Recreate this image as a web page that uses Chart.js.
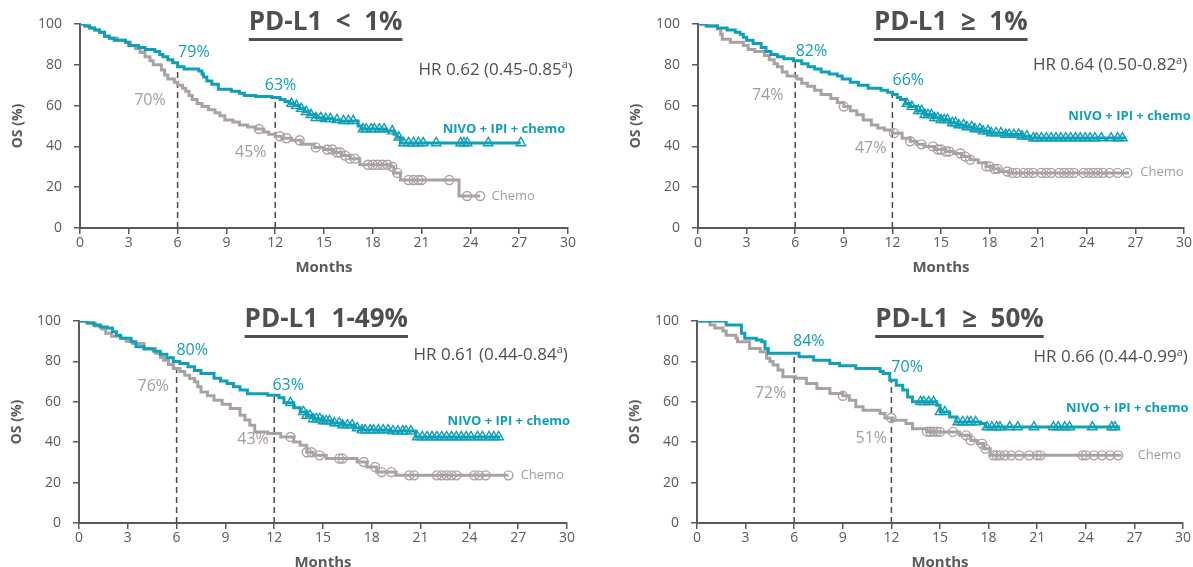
<!DOCTYPE html>
<html>
<head>
<meta charset="utf-8">
<script src="https://cdn.jsdelivr.net/npm/chart.js@4.4.1/dist/chart.umd.min.js"></script>
<style>
  html, body { margin: 0; padding: 0; background: #fff; overflow: hidden; }
  #wrap { position: relative; width: 1193px; height: 567px; }
  canvas { position: absolute; }
</style>
</head>
<body>
<div id="wrap">
  <canvas id="c0"></canvas>
  <canvas id="c1"></canvas>
  <canvas id="c2"></canvas>
  <canvas id="c3"></canvas>
</div>
<script>
// ---- data ----
const panelTitles = ["PD-L1 < 1%", "PD-L1 \u2265 1%", "PD-L1 1-49%", "PD-L1 \u2265 50%"];
const xTicks = [0, 3, 6, 9, 12, 15, 18, 21, 24, 27, 30];
const yTicks = [0, 20, 40, 60, 80, 100];
const landmarkMonths = [6, 12];

const hazardRatios = [0.62, 0.64, 0.61, 0.66];
const hrLower = [0.45, 0.50, 0.44, 0.44];
const hrUpper = [0.85, 0.82, 0.84, 0.99];

// landmark OS (%) at 6 and 12 months
const nivoLandmarks = [[79, 63], [82, 66], [80, 63], [84, 70]];
const chemoLandmarks = [[70, 45], [74, 47], [76, 43], [72, 51]];

// PD-L1 < 1%
const lt1Nivo = [[0,100],[0.3,99],[0.6,98],[0.9,97],[1.2,96],[1.5,94],[1.8,93],[2.1,92],[2.8,91],[3.0,89.5],[3.6,88.5],[4.0,87.5],[4.6,86.5],[4.9,85],[5.1,84],[5.4,82.5],[5.7,81],[6.0,79],[6.4,78],[7.3,77],[7.5,75.5],[7.6,74],[7.8,72],[8.1,70.5],[8.5,68],[9.3,67],[9.8,66],[10.1,65],[10.8,64.5],[11.8,64],[12.3,63],[12.6,62],[12.9,61],[13.2,60],[13.5,58.5],[13.8,57],[14.1,55.5],[14.5,54],[15.0,53.5],[15.6,53],[16.0,52.5],[17.1,50],[17.3,48.5],[18.8,47.5],[19.3,46],[19.5,44.5],[19.7,41.7],[27.1,41.7]];
const lt1NivoCensor = [13.0,13.3,13.6,13.9,14.2,14.5,14.8,15.1,15.4,15.8,16.2,16.5,16.8,17.4,17.6,17.9,18.1,18.4,18.7,19.2,19.6,19.9,20.2,20.5,20.8,21.1,21.9,23.4,23.6,23.8,25.1,27.1];
const lt1Chemo = [[0,100],[0.3,99],[0.6,98],[0.9,97],[1.2,96],[1.5,94],[1.8,93],[2.3,92],[2.8,91],[3.1,89.5],[3.4,88],[3.7,86],[4.0,84],[4.3,82],[4.5,80],[5.0,77.5],[5.2,75],[5.4,73],[5.8,71.5],[6.0,70],[6.3,68.5],[6.5,67],[6.7,65],[6.9,63],[7.2,61],[7.5,59.5],[7.9,58],[8.3,56.5],[8.6,55],[8.9,53],[9.4,52],[9.8,50.5],[10.3,49.5],[10.8,48.5],[11.3,47],[11.6,46],[12.0,45],[12.4,44],[13.0,43],[13.6,41],[14.4,39.5],[15.0,38.5],[15.6,37],[16.1,35.5],[16.6,34],[17.2,31],[19.1,30],[19.3,27],[19.7,23.5],[23.3,15.7],[24.6,15.7]];
const lt1ChemoCensor = [11.0,12.3,12.7,13.5,14.5,15.2,15.5,15.8,16.0,16.3,16.6,16.9,17.7,18.0,18.3,18.6,18.9,19.2,19.5,20.2,20.5,20.8,21.0,22.7,23.8,24.6];

// PD-L1 >= 1%
const ge1Nivo = [[0,100],[0.5,99],[1.2,98],[1.8,97],[2.3,96],[2.6,95],[2.8,93.5],[3.0,92],[3.4,90.5],[3.9,88.5],[4.2,86.5],[4.5,85],[4.9,84],[5.3,83],[5.9,82],[6.4,80.5],[6.8,79],[7.2,78],[7.6,76.5],[8.1,75.5],[8.6,74.5],[8.9,73],[9.4,71.5],[9.9,70],[10.5,68.5],[11.3,67.5],[11.7,66.5],[12.0,65.5],[12.3,64],[12.5,63],[12.8,61],[13.1,59.5],[13.5,57.5],[14.0,55.5],[14.5,54],[15.0,53],[15.5,51.5],[16.0,50.5],[16.5,49.5],[17.0,48.5],[17.5,47.5],[18.0,46.6],[19.0,45.8],[20.0,45],[20.5,44.1],[26.4,44.1]];
const ge1NivoCensor = [12.9,13.2,13.6,13.8,14.0,14.2,14.4,14.6,14.8,15.0,15.2,15.4,15.7,15.9,16.1,16.4,16.6,16.9,17.1,17.4,17.6,17.9,18.1,18.4,18.7,19.0,19.2,19.5,19.8,20.0,20.3,20.7,20.9,21.2,21.5,21.8,22.1,22.4,22.7,23.0,23.3,23.6,23.9,24.2,24.5,24.9,25.5,25.9,26.2];
const ge1Chemo = [[0,100],[0.6,99],[1.2,97.5],[1.4,95],[1.5,92.5],[2.0,91],[2.8,89.5],[3.1,87.5],[3.5,86.5],[4.1,84.5],[4.4,82.5],[4.7,80.5],[4.9,79],[5.2,76.5],[5.5,74.5],[6.1,73],[6.4,71],[6.75,69.5],[7.2,67.5],[7.6,65.5],[8.2,63.5],[8.6,61.5],[9.0,59.5],[9.4,57.5],[9.8,55.5],[10.2,53],[10.7,50.5],[11.1,49],[11.5,48],[12.0,46.5],[12.6,44],[13.1,42.5],[13.5,41],[13.95,40],[14.6,38.5],[15.3,37.5],[15.8,36.5],[16.3,35],[16.8,33.5],[17.3,32],[17.8,30.2],[18.2,29],[18.6,27.7],[19.2,27],[26.6,27]];
const ge1ChemoCensor = [9.0,12.1,13.1,13.8,14.5,14.8,15.0,15.3,15.5,16.2,16.5,16.8,17.8,18.0,18.3,18.5,19.1,19.4,19.7,20.1,20.4,20.7,21.2,21.5,21.8,22.3,22.6,22.9,23.2,23.8,24.1,24.4,24.7,25.0,25.4,25.9,26.5];

// PD-L1 1-49%
const midNivo = [[0,100],[0.5,99],[0.9,98],[1.3,97],[1.74,96.5],[2.05,94.7],[2.3,93],[2.56,91.4],[3.2,89.7],[3.5,87.2],[4.0,86.2],[4.6,85],[5.0,83.5],[5.4,81.8],[5.8,80],[6.2,79],[6.7,77.3],[7.1,75.5],[7.5,74],[8.3,71.6],[8.7,70.3],[9.1,69],[9.5,67.5],[9.9,65.8],[10.35,64],[11.6,63.3],[12.3,62],[12.6,59.5],[13.2,57],[13.6,55],[14.0,53.2],[14.4,51.5],[15.0,50.5],[15.6,49.5],[16.2,48.5],[16.9,47],[17.4,46],[19.1,45.5],[20.7,42.6],[25.9,42.6]];
const midNivoCensor = [13.0,13.8,14.0,14.2,14.4,14.6,14.8,15.0,15.2,15.4,15.7,16.0,16.2,16.5,16.8,17.1,17.4,17.6,17.9,18.1,18.4,18.7,19.0,19.3,19.6,19.9,20.1,20.4,20.8,21.1,21.4,21.7,22.0,22.3,22.6,22.9,23.2,23.5,23.8,24.1,24.5,24.8,25.2,25.5,25.8];
const midChemo = [[0,100],[0.5,99],[1.0,97.5],[1.4,96],[1.64,93.9],[2.0,92.5],[2.56,91.4],[2.9,90],[3.3,88.9],[4.0,86.4],[4.7,84],[5.0,82],[5.2,80.6],[5.5,78.5],[5.8,76.5],[6.2,75],[6.5,73.2],[6.8,71.5],[7.1,69.9],[7.3,67.5],[7.5,64.9],[7.9,63],[8.3,60.8],[8.8,58.8],[9.3,56.7],[9.9,53.4],[10.2,51],[10.5,48.4],[10.8,45.1],[11.6,44.3],[12.4,42.6],[13.2,40.1],[13.6,38.5],[14.0,35],[14.4,33.5],[15.2,31.9],[17.1,30.2],[17.7,27.7],[18.3,25.2],[19.5,23.6],[26.4,23.6]];
const midChemoCensor = [13.0,14.0,14.3,14.8,16.0,16.2,17.5,18.2,18.6,19.2,20.3,20.6,22.0,22.3,22.6,22.9,23.2,24.3,24.6,25.0,26.4];

// PD-L1 >= 50%
const ge50Nivo = [[0,100],[1.8,98],[2.74,93.9],[2.95,91.4],[3.66,90.6],[4.0,89.7],[4.2,86.4],[4.4,84],[6.3,82.3],[7.2,80.6],[8.2,79],[8.8,77.8],[9.8,76.5],[11.3,75],[11.5,74],[11.9,70.7],[12.3,68.2],[12.7,65.8],[13.0,62.4],[13.3,60],[14.8,58.3],[15.0,55],[15.6,52.5],[16.0,50],[17.5,49.2],[17.8,47.5],[26.1,47.5]];
const ge50NivoCensor = [13.8,14.0,14.3,14.6,15.0,15.3,16.1,16.4,16.7,16.9,17.2,17.9,18.2,18.5,18.7,19.3,19.8,20.8,22.0,22.3,22.7,23.0,24.4,25.6,25.8];
const ge50Chemo = [[0,100],[0.8,98],[1.1,96.5],[1.6,95],[1.8,93],[2.4,91.4],[2.5,89.7],[3.25,86.4],[3.9,84.8],[4.3,81.5],[4.5,80],[4.7,78.2],[5.0,75.7],[5.3,72.4],[6.1,71.6],[6.75,69.1],[7.4,66.6],[8.2,64.1],[9.0,63],[9.4,60.8],[9.8,57.5],[10.25,55.8],[11.3,54.2],[11.6,52],[12.1,50.9],[12.9,49.2],[13.3,46.7],[14.2,45.2],[15.0,45.1],[16.2,43.4],[16.9,40.9],[17.3,39.3],[17.7,36.8],[18.1,33.5],[26.2,33.5]];
const ge50ChemoCensor = [9.0,12.0,14.2,14.4,14.6,14.8,15.0,15.8,16.6,16.9,17.6,17.8,18.3,18.5,18.7,19.0,19.4,19.9,20.5,21.0,21.2,23.8,24.0,24.5,25.0,25.5,26.0];

const nivoCurves = [lt1Nivo, ge1Nivo, midNivo, ge50Nivo];
const nivoCensors = [lt1NivoCensor, ge1NivoCensor, midNivoCensor, ge50NivoCensor];
const chemoCurves = [lt1Chemo, ge1Chemo, midChemo, ge50Chemo];
const chemoCensors = [lt1ChemoCensor, ge1ChemoCensor, midChemoCensor, ge50ChemoCensor];

// ---- layout / style ----
const TEAL = "#0fa0b7";
const GREY = "#aaa2a2";
const GREY_TXT = "#a49c9c";
const AXIS = "#5a5a5a";
const DARK = "#4f4f4f";
const FONT = "'Open Sans', 'Noto Sans', sans-serif";

// canvas boxes and text spots (text spots in data units)
const frames = [
  { left: 0,   top: 0,   w: 598, h: 285, padRight: 30, titleX: 15.1, hr: [30.3, 77.6],
    lbl: [[7.0, 86], [4.3, 62.6], [12.33, 69.9], [10.5, 37.1]], nivoLbl: [22.3, 48.2], chemoLbl: [25.3, 15.5] },
  { left: 618, top: 0,   w: 575, h: 285, padRight: 9,  titleX: 15.6, hr: [30.2, 79.6],
    lbl: [[7.0, 86.6], [4.3, 64.9], [12.98, 72.4], [10.66, 39.2]], nivoLbl: [22.86, 54.7], chemoLbl: [27.3, 27.3] },
  { left: -1,  top: 297, w: 598, h: 283, padRight: 30, titleX: 15.2, hr: [30.05, 83],
    lbl: [[6.96, 85.6], [4.57, 67.7], [12.86, 68.2], [10.7, 41.4]], nivoLbl: [22.66, 50.5], chemoLbl: [27.15, 23.6] },
  { left: 617, top: 297, w: 576, h: 283, padRight: 10, titleX: 16.2, hr: [30.3, 82],
    lbl: [[6.9, 89.7], [4.55, 64.1], [12.97, 76.8], [10.76, 41.8]], nivoLbl: [22.78, 56.7], chemoLbl: [27.2, 33.5] }
];

// value of a step curve at time t
function survAt(curve, t) {
  let v = curve[0][1];
  for (const [x, y] of curve) { if (x <= t) v = y; }
  return v;
}

const panelText = {
  id: "panelText",
  afterDatasetsDraw(chart, args, o) {
    const { ctx, chartArea } = chart;
    const sx = chart.scales.x, sy = chart.scales.y;
    const px = v => sx.getPixelForValue(v);
    const py = v => sy.getPixelForValue(v);
    ctx.save();

    // title, underlined
    ctx.font = "bold 26px " + FONT;
    ctx.fillStyle = DARK;
    ctx.textAlign = "center";
    ctx.textBaseline = "middle";
    const tx = px(o.frame.titleX);
    ctx.fillText(o.title.replace(/ /g, "  "), tx, chartArea.top - 1);
    const tw = ctx.measureText(o.title.replace(/ /g, "  ")).width;
    ctx.fillRect(tx - tw / 2, chartArea.top + 14, tw, 3);

    // HR text with superscript a
    const hx = px(o.frame.hr[0]), hy = py(o.frame.hr[1]);
    ctx.textAlign = "right";
    ctx.font = "17px " + FONT;
    ctx.fillStyle = DARK;
    ctx.fillText(")", hx, hy);
    const wClose = ctx.measureText(")").width;
    ctx.font = "11px " + FONT;
    ctx.fillText("a", hx - wClose, hy - 5);
    const wSup = ctx.measureText("a").width;
    ctx.font = "17px " + FONT;
    ctx.fillText("HR " + o.hr.toFixed(2) + " (" + o.lo.toFixed(2) + "-" + o.hi.toFixed(2), hx - wClose - wSup, hy);

    // landmark percentages
    ctx.textAlign = "center";
    ctx.font = "16px " + FONT;
    const vals = [o.nivoLm[0], o.chemoLm[0], o.nivoLm[1], o.chemoLm[1]];
    const cols = [TEAL, GREY_TXT, TEAL, GREY_TXT];
    o.frame.lbl.forEach(([lx, ly], i) => {
      ctx.fillStyle = cols[i];
      ctx.fillText(vals[i] + "%", px(lx), py(ly));
    });

    // arm labels
    ctx.textAlign = "left";
    ctx.font = "bold 13px " + FONT;
    ctx.fillStyle = TEAL;
    ctx.fillText("NIVO + IPI + chemo", px(o.frame.nivoLbl[0]), py(o.frame.nivoLbl[1]));
    ctx.font = "13px " + FONT;
    ctx.fillStyle = GREY_TXT;
    ctx.fillText("Chemo", px(o.frame.chemoLbl[0]), py(o.frame.chemoLbl[1]));
    ctx.restore();
  }
};

function buildPanel(i) {
  const f = frames[i];
  const canvas = document.getElementById("c" + i);
  canvas.width = f.w;
  canvas.height = f.h;
  canvas.style.left = f.left + "px";
  canvas.style.top = f.top + "px";

  const nivo = nivoCurves[i], chemo = chemoCurves[i];
  const toXY = arr => arr.map(([x, y]) => ({ x, y }));
  const dashed = landmarkMonths.map((m, k) => ({
    data: [{ x: m, y: 0 }, { x: m, y: nivoLandmarks[i][k] }],
    borderColor: "#4a4a4a", borderWidth: 1.5, borderDash: [6, 4],
    pointRadius: 0, order: 5
  }));

  new Chart(canvas, {
    type: "line",
    data: {
      datasets: [
        { data: nivoCensors[i].map(t => ({ x: t, y: survAt(nivo, t) })), showLine: false,
          pointStyle: "triangle", pointRadius: 5.5, pointBorderWidth: 1.4,
          pointBorderColor: TEAL, pointBackgroundColor: "rgba(255,255,255,0)", order: 0 },
        { data: chemoCensors[i].map(t => ({ x: t, y: survAt(chemo, t) })), showLine: false,
          pointStyle: "circle", pointRadius: 4.5, pointBorderWidth: 1.4,
          pointBorderColor: GREY, pointBackgroundColor: "rgba(255,255,255,0)", order: 1 },
        { data: toXY(nivo), stepped: true, borderColor: TEAL, borderWidth: 3, pointRadius: 0, order: 2 },
        { data: toXY(chemo), stepped: true, borderColor: GREY, borderWidth: 3, pointRadius: 0, order: 3 },
        ...dashed
      ]
    },
    options: {
      responsive: false,
      animation: false,
      devicePixelRatio: 1,
      layout: { padding: { top: 24, right: f.padRight, left: 0, bottom: 0 } },
      plugins: {
        legend: { display: false },
        tooltip: { enabled: false },
        panelText: {
          frame: f, title: panelTitles[i], hr: hazardRatios[i], lo: hrLower[i], hi: hrUpper[i],
          nivoLm: nivoLandmarks[i], chemoLm: chemoLandmarks[i]
        }
      },
      scales: {
        x: {
          type: "linear", min: 0, max: 30,
          afterBuildTicks: s => { s.ticks = xTicks.map(v => ({ value: v })); },
          afterFit: s => { s.height = 57; },
          ticks: { color: AXIS, font: { family: FONT, size: 14 }, padding: 1, maxRotation: 0, autoSkip: false },
          grid: { drawOnChartArea: false, tickLength: 6, color: AXIS, lineWidth: 1.5 },
          border: { color: AXIS, width: 2 },
          title: { display: true, text: "Months", color: AXIS, font: { family: FONT, size: 15, weight: "bold" }, padding: { top: 0, bottom: 8 } }
        },
        y: {
          type: "linear", min: 0, max: 100,
          afterBuildTicks: s => { s.ticks = yTicks.map(v => ({ value: v })); },
          afterFit: s => { s.width = 80; },
          ticks: { color: AXIS, font: { family: FONT, size: 14 }, padding: 12 },
          grid: { drawOnChartArea: false, tickLength: 6, color: AXIS, lineWidth: 1.5 },
          border: { color: AXIS, width: 2 },
          title: { display: true, text: "OS (%)", color: AXIS, font: { family: FONT, size: 14, weight: "bold" }, padding: { top: 10, bottom: 0 } }
        }
      }
    },
    plugins: [panelText]
  });
}

[0, 1, 2, 3].forEach(buildPanel);
</script>
</body>
</html>
